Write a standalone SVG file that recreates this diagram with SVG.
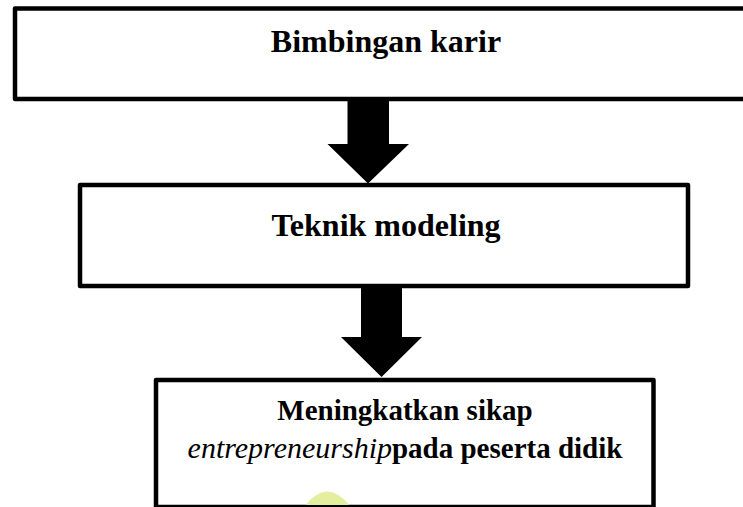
<svg xmlns="http://www.w3.org/2000/svg" width="743" height="507" viewBox="0 0 743 507">
<style>
.box{fill:#fff;stroke:#000;stroke-width:4.5;stroke-linejoin:round}
.t{font-family:"Liberation Serif","Times New Roman",serif;font-weight:bold;fill:#000}
.arrow{fill:#000}
</style>
<rect width="743" height="507" fill="#fff"/>
<g id="node1">
<rect class="box" x="15" y="8.5" width="745" height="90.5"/>
<text class="t" x="386" y="52" font-size="32" text-anchor="middle">Bimbingan karir</text>
</g>
<g id="node2">
<rect class="box" x="80" y="185" width="608" height="101"/>
<text class="t" x="386" y="236" font-size="32" text-anchor="middle">Teknik modeling</text>
</g>
<g id="node3">
<rect class="box" x="156" y="380" width="497.5" height="127"/>
<path d="M304,507 Q327,476 351,507 Z" fill="#e3ee9f"/>
<line x1="156" y1="506" x2="653.5" y2="506" stroke="#000" stroke-width="2"/>
<text class="t" x="405" y="420" font-size="29" text-anchor="middle">Meningkatkan sikap</text>
<text class="t" x="405" y="458" font-size="29" text-anchor="middle"><tspan font-style="italic" font-weight="normal" font-size="30">entrepreneurship</tspan>pada peserta didik</text>
</g>
<g id="connectors">
<polygon class="arrow" points="347.5,101 389,101 389,144 409,144 368,183.5 327.5,144 347.5,144"/>
<polygon class="arrow" points="361,288 402,288 402,337 422,337 381.5,377 341,337 361,337"/>
</g>
</svg>
